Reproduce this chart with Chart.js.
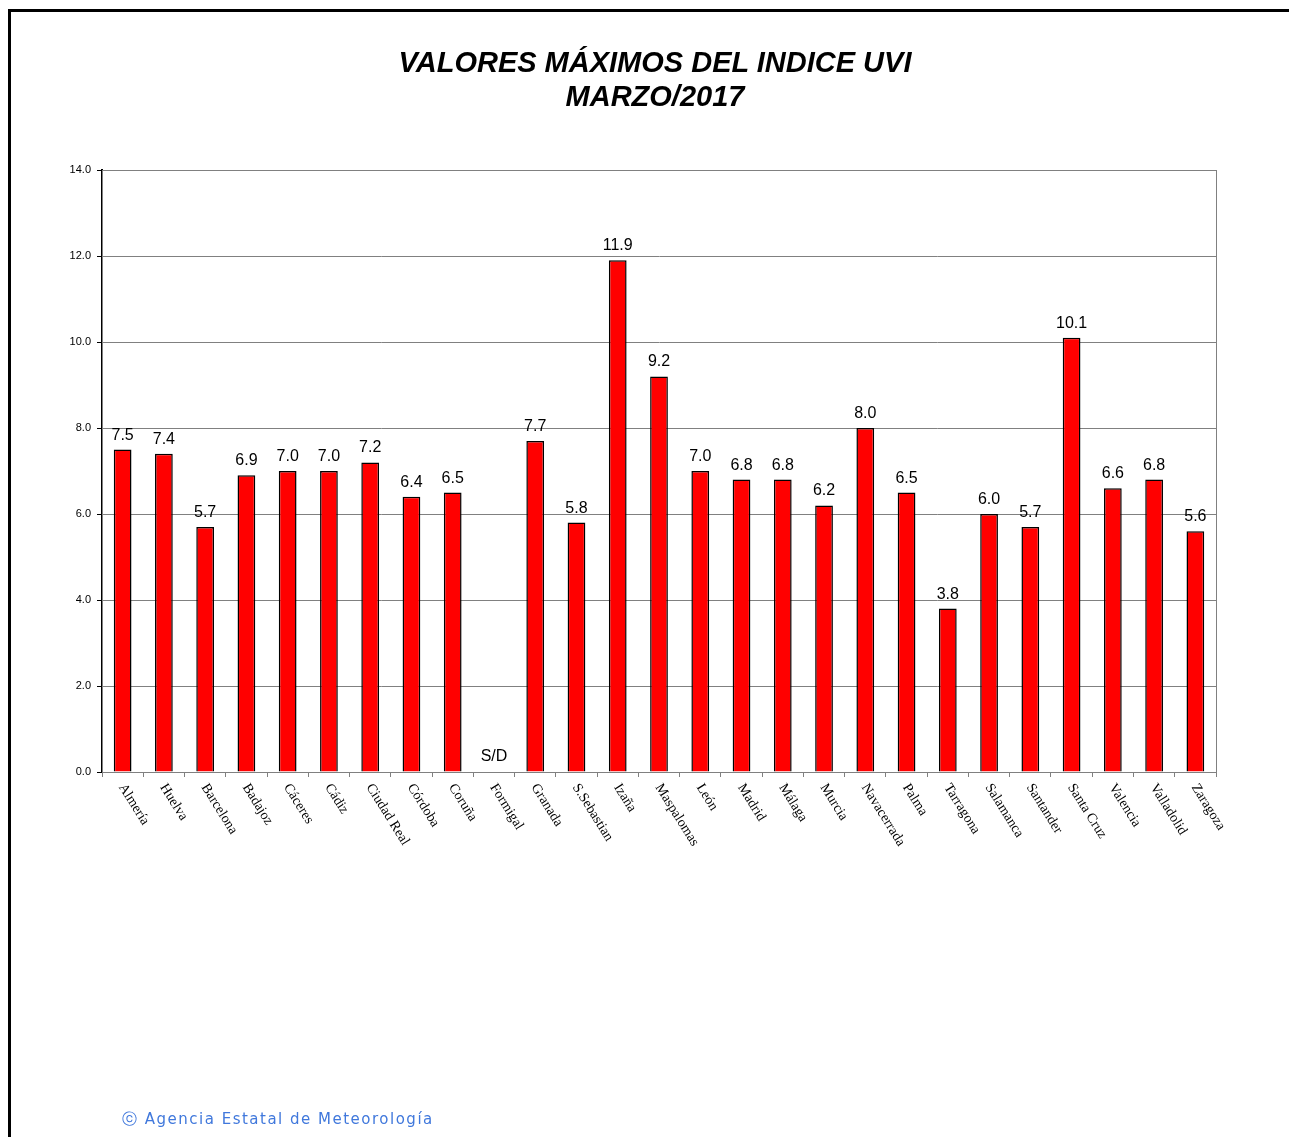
<!DOCTYPE html>
<html>
<head>
<meta charset="utf-8">
<script src="https://cdn.jsdelivr.net/npm/chart.js@4/dist/chart.umd.min.js"></script>
<style>
  html, body { margin: 0; padding: 0; background: #fff; overflow: hidden; }
  .frame {
    position: absolute; left: 8px; top: 9px; width: 1300px; height: 1200px;
    border-left: 3px solid #000; border-top: 3px solid #000;
  }
  .wrap { position: absolute; left: 0; top: 0; width: 1289px; height: 1137px; }
  .title {
    position: absolute; left: 355px; width: 600px; top: 45px; text-align: center;
    font-family: "Liberation Sans", Arial, sans-serif; font-size: 29px;
    font-weight: bold; font-style: italic; line-height: 34px; color: #000;
  }
  .footer {
    position: absolute; left: 122px; top: 1110px;
    font-family: "DejaVu Sans", Verdana, sans-serif; font-size: 15px;
    color: #4078dc; letter-spacing: 1.5px;
  }
</style>
</head>
<body>
<div class="frame"></div>
<div class="wrap"><canvas id="uvi"></canvas></div>
<div class="title">VALORES MÁXIMOS DEL INDICE UVI<br>MARZO/2017</div>
<div class="footer">&#9426; Agencia Estatal de Meteorología</div>
<script>
const stations = ['Almería', 'Huelva', 'Barcelona', 'Badajoz', 'Cáceres', 'Cádiz', 'Ciudad Real',
  'Córdoba', 'Coruña', 'Formigal', 'Granada', 'S.Sebastian', 'Izaña', 'Maspalomas', 'León',
  'Madrid', 'Málaga', 'Murcia', 'Navacerrada', 'Palma', 'Tarragona', 'Salamanca', 'Santander',
  'Santa Cruz', 'Valencia', 'Valladolid', 'Zaragoza'];
// null = sin datos (S/D)
const maxUvi = [7.5, 7.4, 5.7, 6.9, 7.0, 7.0, 7.2, 6.4, 6.5, null, 7.7, 5.8, 11.9, 9.2, 7.0,
  6.8, 6.8, 6.2, 8.0, 6.5, 3.8, 6.0, 5.7, 10.1, 6.6, 6.8, 5.6];
const yTicks = [0, 2, 4, 6, 8, 10, 12, 14];

// frame around the plot area (gray top/right)
const plotFrame = {
  id: 'plotFrame',
  beforeDatasetsDraw(chart) {
    const { ctx, chartArea: a } = chart;
    ctx.save();
    ctx.strokeStyle = '#808080';
    ctx.lineWidth = 1;
    ctx.strokeRect(a.left + 0.5, a.top + 0.5, a.right - a.left, a.bottom - a.top);
    ctx.restore();
  }
};

// value labels above bars + rotated station names
const barLabels = {
  id: 'barLabels',
  afterDatasetsDraw(chart) {
    const { ctx, scales } = chart;
    const meta = chart.getDatasetMeta(0);
    ctx.save();
    ctx.fillStyle = '#000';
    ctx.font = '16px "Liberation Sans", Arial, sans-serif';
    ctx.textAlign = 'center';
    ctx.textBaseline = 'alphabetic';
    meta.data.forEach((bar, i) => {
      const v = maxUvi[i];
      if (v === null) {
        ctx.fillText('S/D', bar.x, scales.y.getPixelForValue(0) - 11);
      } else {
        ctx.fillText(v.toFixed(1), bar.x, bar.y - 10);
      }
    });
    ctx.font = '14px "Liberation Serif", "Times New Roman", serif';
    ctx.textAlign = 'left';
    ctx.textBaseline = 'middle';
    const base = scales.x.top;
    stations.forEach((name, i) => {
      const x = scales.x.getPixelForValue(i);
      ctx.save();
      ctx.translate(x - 1, base + 13);
      ctx.rotate(Math.PI / 180 * 58);
      ctx.fillText(name, 0, 0);
      ctx.restore();
    });
    ctx.restore();
  }
};

new Chart(document.getElementById('uvi'), {
  type: 'bar',
  data: {
    labels: stations,
    datasets: [{
      data: maxUvi,
      backgroundColor: '#ff0000',
      borderColor: '#000000',
      borderWidth: 1.5,
      borderSkipped: 'bottom',
      barPercentage: 0.43,
      categoryPercentage: 1.0
    }]
  },
  options: {
    responsive: true,
    maintainAspectRatio: false,
    animation: false,
    layout: { padding: { left: 0, right: 73, top: 170, bottom: 0 } },
    plugins: {
      legend: { display: false },
      tooltip: { enabled: false },
      title: { display: false }
    },
    scales: {
      x: {
        offset: true,
        afterFit(scale) { scale.height = 365; },
        ticks: { display: false },
        grid: {
          offset: true,
          drawOnChartArea: false,
          drawTicks: true,
          tickLength: 5,
          color: '#808080'
        },
        border: { color: '#808080', width: 1 }
      },
      y: {
        min: 0,
        max: 14,
        afterFit(scale) { scale.width = 102; },
        afterBuildTicks(scale) { scale.ticks = yTicks.map(v => ({ value: v })); },
        ticks: {
          color: '#000',
          padding: 6,
          font: { family: '"Liberation Sans", Arial, sans-serif', size: 11 },
          callback: v => Number(v).toFixed(1)
        },
        grid: {
          color: '#808080',
          lineWidth: 1,
          tickLength: 5,
          tickColor: '#000'
        },
        border: { color: '#000', width: 2 }
      }
    }
  },
  plugins: [plotFrame, barLabels]
});
</script>
</body>
</html>
